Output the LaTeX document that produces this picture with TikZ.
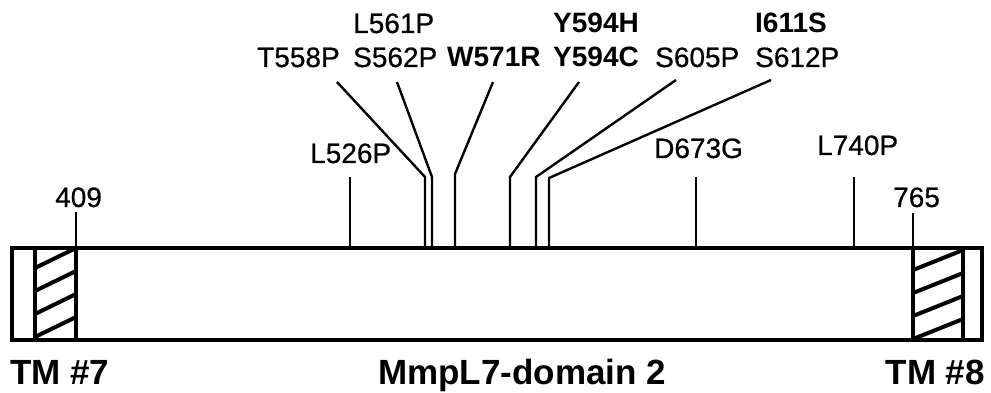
\documentclass[tikz,border=0pt]{standalone}
\usepackage{fontspec}
\setmainfont{Liberation Sans}
\newfontfamily\heavyfont[FakeBold=0.6]{Liberation Sans}
\begin{document}
\begin{tikzpicture}[x=1pt,y=-1pt,
  lab/.style={anchor=base west,inner sep=0pt,font=\fontsize{28}{30}\selectfont\heavyfont},
  blab/.style={anchor=base west,inner sep=0pt,font=\fontsize{28}{30}\selectfont\bfseries},
  big/.style={inner sep=0pt,font=\fontsize{35}{38}\selectfont\bfseries},
  tick/.style={line width=2.2pt},
  lead/.style={line width=2.4pt,line join=miter},
  frame/.style={line width=4.6pt},
  hatch/.style={line width=4pt}]
\useasboundingbox (0,0) rectangle (991,393);
% labels
\node[lab]  (l561) at (353,33) {L561P};
\node[blab] (y594h) at (553,33) {Y594H};
\node[blab] (i611) at (755,33) {I611S};
\node[lab]  (t558) at (257,67) {T558P};
\node[lab]  (s562) at (353,67) {S562P};
\node[blab] (w571) at (447,67) {W571R};
\node[blab] (y594c) at (553,67) {Y594C};
\node[lab]  (s605) at (655,67) {S605P};
\node[lab]  (s612) at (755,67) {S612P};
\node[lab]  (l526) at (310,163) {L526P};
\node[lab]  (d673) at (654,158) {D673G};
\node[lab]  (l740) at (817,155) {L740P};
\node[lab]  (n409) at (55,207) {409};
\node[lab]  (n765) at (893,207) {765};
\node[big,anchor=base] (dom) at (522,384) {MmpL7-domain 2};
\node[big,anchor=base west] (tm7) at (10,384) {TM \#7};
\node[big,anchor=base east] (tm8) at (985,384) {TM \#8};
% box corners
\coordinate (bl) at (12,340);
\coordinate (tr) at (982,248);
% leader coordinates
\coordinate (a1) at (337,82); \coordinate (a2) at (425,177); \coordinate (a3) at (425,248);
\coordinate (b1) at (397,82); \coordinate (b2) at (432,177); \coordinate (b3) at (432,248);
\coordinate (c1) at (493,82); \coordinate (c2) at (455,174); \coordinate (c3) at (455,248);
\coordinate (d1) at (579,82); \coordinate (d2) at (510,177); \coordinate (d3) at (510,248);
\coordinate (e1) at (676,80); \coordinate (e2) at (536,177); \coordinate (e3) at (536,248);
\coordinate (f1) at (771,80); \coordinate (f2) at (549,178); \coordinate (f3) at (549,248);
\draw[lead] (a1) -- (a2) -- (a3);
\draw[lead] (b1) -- (b2) -- (b3);
\draw[lead] (c1) -- (c2) -- (c3);
\draw[lead] (d1) -- (d2) -- (d3);
\draw[lead] (e1) -- (e2) -- (e3);
\draw[lead] (f1) -- (f2) -- (f3);
% straight ticks
\coordinate (g1) at (350,177); \coordinate (g2) at (350,248);
\coordinate (h1) at (696,177); \coordinate (h2) at (696,248);
\coordinate (k1) at (854,177); \coordinate (k2) at (854,248);
\coordinate (m1) at (76,212);  \coordinate (m2) at (76,248);
\coordinate (p1) at (913,213); \coordinate (p2) at (913,248);
\draw[tick] (g1) -- (g2);
\draw[tick] (h1) -- (h2);
\draw[tick] (k1) -- (k2);
\draw[tick] (m1) -- (m2);
\draw[tick] (p1) -- (p2);
% hatching
\begin{scope}
\clip (35,248) rectangle (76,340);
\foreach \y in {245,268,291,314,337,360} \draw[hatch] (35,\y) -- (76,\y-20);
\end{scope}
\begin{scope}
\clip (913,248) rectangle (963,340);
\foreach \y in {247,270,293,316,339,362} \draw[hatch] (913,\y) -- (963,\y-20);
\end{scope}
% frame
\draw[frame] (bl) rectangle (tr);
\draw[frame] (35,248) -- (35,340);
\draw[frame] (76,248) -- (76,340);
\draw[frame] (913,248) -- (913,340);
\draw[frame] (963,248) -- (963,340);
\end{tikzpicture}
\end{document}
